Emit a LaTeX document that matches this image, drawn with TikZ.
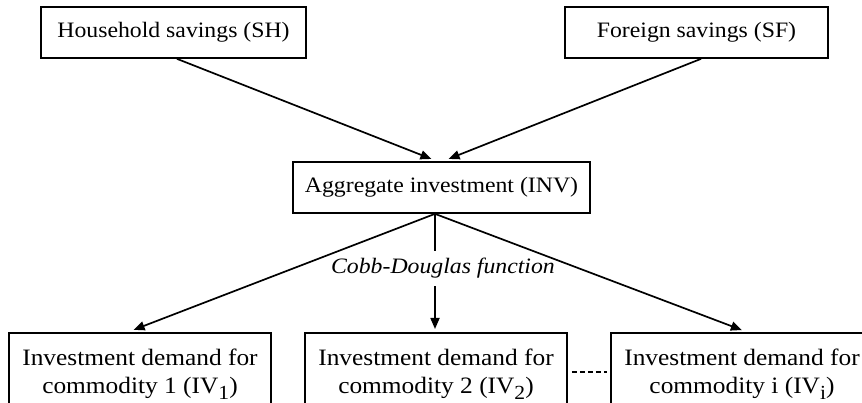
\documentclass[tikz,border=0pt]{standalone}
\usepackage{fontspec}
\setmainfont{Liberation Serif}[FakeStretch=1.08]
\usetikzlibrary{arrows.meta}
% lowered index used in the bottom labels
\newcommand{\lowsub}[1]{\raisebox{-6pt}{\fontsize{20}{20}\selectfont #1}}
\begin{document}
\begin{tikzpicture}[x=1pt,y=-1pt,
  box/.style={draw,line width=1.7pt,inner sep=0pt,align=center},
  topbox/.style={box,minimum height=51pt,font=\fontsize{22}{26}\selectfont},
  lowbox/.style={box,anchor=north,minimum width=262pt,minimum height=83pt,
                 font=\fontsize{23.5}{28}\selectfont},
  link/.style={line width=1.7pt},
  arr/.style={link,-{Triangle[length=11pt,width=9pt]}}]
\useasboundingbox (0,0) rectangle (862,403);
\clip (0,0) rectangle (862,403);

% savings sources
\node[topbox,minimum width=265pt] (hh) at (173.5,32.5) {Household savings (SH)};
\node[topbox,minimum width=263pt] (sf) at (696.5,32.5) {Foreign savings (SF)};

% aggregate investment
\node[topbox,minimum width=297pt] (inv) at (441.5,187.5) {Aggregate investment (INV)};

% investment demand by commodity
\node[lowbox] (b1) at (140,332) {Investment demand for\\commodity 1 (IV\lowsub{1})};
\node[lowbox] (b2) at (436,332) {Investment demand for\\commodity 2 (IV\lowsub{2})};
\node[lowbox] (b3) at (742,332) {Investment demand for\\commodity i (IV\lowsub{i})};

% function label on the central branch
\node[inner sep=0pt,minimum height=35pt,font=\itshape\fontsize{22}{26}\selectfont]
  (cd) at (443,268.5) {Cobb-Douglas function};

% savings flow into investment
\draw[arr,shorten >=6pt] ([xshift=3.5pt]hh.south) -- ([xshift=-4.5pt]inv.north);
\draw[arr,shorten >=6pt] ([xshift=4.5pt]sf.south) -- ([xshift=1.5pt]inv.north);

% investment allocated to commodities
\coordinate (split) at ([xshift=-6.5pt]inv.south);
\draw[link] (split) -- (split |- cd.north);
\draw[arr,shorten >=3pt] (split |- cd.south) -- ([xshift=-1pt]b2.north);
\draw[arr,shorten >=6pt] (split) -- ([xshift=-12pt]b1.north);
\draw[arr,shorten >=5.5pt] (split) -- ([xshift=5pt]b3.north);

% further commodities
\draw[line width=1.7pt,dash pattern=on 5pt off 3pt,shorten <=4pt,shorten >=3pt]
  ([yshift=2.5pt]b2.east) -- ([yshift=2.5pt]b3.west);
\end{tikzpicture}
\end{document}
